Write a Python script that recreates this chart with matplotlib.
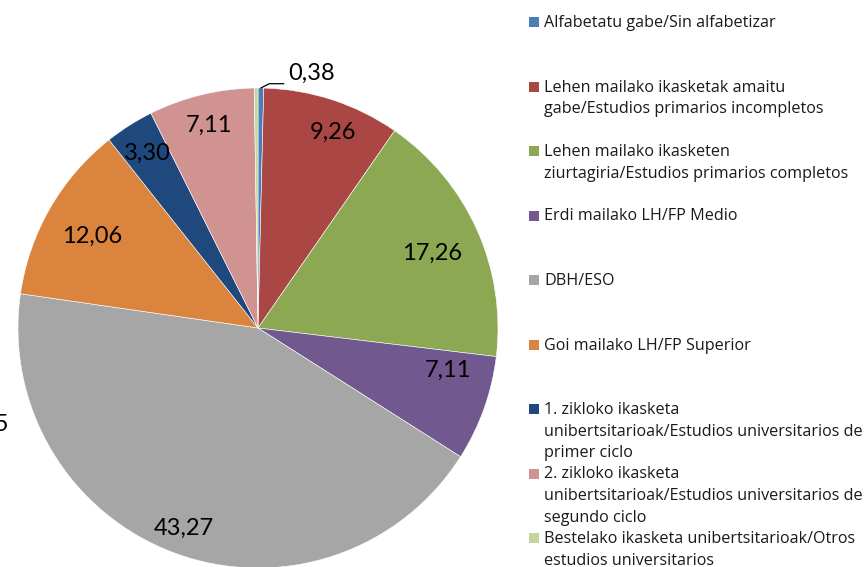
import matplotlib.pyplot as plt
from matplotlib.patches import Rectangle
import numpy as np

categories = [
    "Alfabetatu gabe/Sin alfabetizar",
    "Lehen mailako ikasketak amaitu\ngabe/Estudios primarios incompletos",
    "Lehen mailako ikasketen\nziurtagiria/Estudios primarios completos",
    "Erdi mailako LH/FP Medio",
    "DBH/ESO",
    "Goi mailako LH/FP Superior",
    "1. zikloko ikasketa\nunibertsitarioak/Estudios universitarios de\nprimer ciclo",
    "2. zikloko ikasketa\nunibertsitarioak/Estudios universitarios de\nsegundo ciclo",
    "Bestelako ikasketa unibertsitarioak/Otros\nestudios universitarios",
]
values = [0.38, 9.26, 17.26, 7.11, 43.27, 12.06, 3.30, 7.11, 0.25]
value_labels = ["0,38", "9,26", "17,26", "7,11", "43,27", "12,06", "3,30", "7,11", "0,25"]
colors = ["#4A7EBB", "#AA4643", "#8CA852", "#71588F", "#A6A6A6",
          "#DB843D", "#1F497D", "#D19392", "#C3D69B"]

# label placement inside the slices (fraction of radius, shift in degrees)
label_r = [None, 0.875, 0.79, 0.81, 0.89, 0.79, 0.86, 0.87, None]
label_shift = [0, 3, 1, -7, 0, -1, 0, 0, 0]

W, H = 867, 567
plt.rcParams['font.family'] = ['Lato', 'DejaVu Sans']
fig = plt.figure(figsize=(W / 100, H / 100), dpi=100)

cx, cy, R = 258, 328, 240
ax = fig.add_axes([(cx - R) / W, (H - cy - R) / H, 2 * R / W, 2 * R / H])
wedges, _ = ax.pie(values, colors=colors, startangle=90, counterclock=False,
                   radius=1.0, wedgeprops=dict(edgecolor="white", linewidth=0.4))
ax.set_xlim(-1, 1)
ax.set_ylim(-1, 1)
ax.set_aspect("equal")
ax.axis("off")

for i, w in enumerate(wedges):
    if label_r[i] is None:
        continue
    mid = np.deg2rad((w.theta1 + w.theta2) / 2 - label_shift[i])
    ax.text(label_r[i] * np.cos(mid), label_r[i] * np.sin(mid), value_labels[i],
            ha="center", va="center", fontsize=17, color="black")

# small slice label with leader line
w = wedges[0]
mid = np.deg2rad((w.theta1 + w.theta2) / 2)
p0 = np.array([np.cos(mid), np.sin(mid)])
p1 = p0 + np.array([0.035, 0.018])
p2 = p1 + np.array([0.06, 0.0])
ax.plot([p0[0], p1[0], p2[0]], [p0[1], p1[1], p2[1]], color="black", lw=0.9, clip_on=False)
ax.text(p2[0] + 0.02, p2[1] + 0.045, value_labels[0], ha="left", va="center",
        fontsize=17, clip_on=False)

# last label sits off the left edge, as in the original
ax.text(-1.04, -0.40, value_labels[8], ha="right", va="center", fontsize=17, clip_on=False)

# legend
lx, base0, step, line_h = 544, 27, 64.5, 21.7
for i, (name, col) in enumerate(zip(categories, colors)):
    base = base0 + step * i
    fig.patches.append(Rectangle((529 / W, 1 - base / H), 10 / W, 10 / H,
                                 transform=fig.transFigure, facecolor=col,
                                 edgecolor="none"))
    for k, line in enumerate(name.split("\n")):
        fig.text(lx / W, 1 - (base + k * line_h) / H, line, ha="left",
                 va="baseline", fontsize=11.6, color="#1a1a1a",
                 family=["Open Sans", "DejaVu Sans"])

fig.savefig("out.png", dpi=100)
